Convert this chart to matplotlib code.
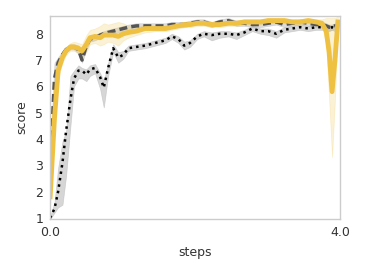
import numpy as np
import matplotlib
matplotlib.use("Agg")
import matplotlib.pyplot as plt

# steps (shared x for all runs)
steps = [0.00, 0.06, 0.11, 0.17, 0.22, 0.28, 0.33, 0.39, 0.44, 0.50,
         0.55, 0.62, 0.69, 0.74, 0.80, 0.87, 0.94, 1.01, 1.08, 1.19,
         1.31, 1.45, 1.59, 1.68, 1.77, 1.85, 1.93, 2.03, 2.12, 2.23,
         2.34, 2.46, 2.57, 2.68, 2.79, 2.90, 3.01, 3.12, 3.23, 3.34,
         3.45, 3.56, 3.67, 3.75, 3.81, 3.85, 3.89, 3.93, 3.97]

# dotted black run
dot_mean = [1.0, 1.35, 2.0, 3.1, 4.3, 5.5, 6.3, 6.6, 6.6, 6.45,
            6.65, 6.7, 6.35, 5.95, 6.7, 7.45, 7.1, 7.2, 7.45, 7.5,
            7.55, 7.65, 7.75, 7.9, 7.8, 7.55, 7.65, 7.9, 8.0, 7.95,
            8.0, 8.0, 7.95, 8.05, 8.2, 8.1, 8.1, 8.0, 8.15, 8.2,
            8.25, 8.2, 8.25, 8.25, 8.2, 8.2, 8.25, 8.2, 8.25]
dot_lo = [0.95, 1.2, 1.4, 1.5, 2.6, 4.5, 6.0, 6.3, 6.3, 6.2,
          6.4, 6.5, 5.9, 5.2, 6.4, 7.3, 6.9, 7.05, 7.35, 7.4,
          7.45, 7.55, 7.65, 7.8, 7.65, 7.4, 7.5, 7.8, 7.9, 7.75,
          7.85, 7.9, 7.8, 7.95, 8.1, 8.0, 7.95, 7.85, 8.05, 8.1,
          8.15, 8.1, 8.15, 8.15, 8.1, 8.1, 8.15, 8.1, 8.15]
dot_hi = [1.05, 1.6, 2.9, 3.9, 4.3, 6.4, 6.6, 6.8, 6.7, 6.65,
          6.8, 6.85, 6.5, 6.2, 6.9, 7.6, 7.3, 7.35, 7.55, 7.6,
          7.65, 7.75, 7.85, 8.0, 7.9, 7.7, 7.75, 8.0, 8.1, 8.05,
          8.1, 8.1, 8.05, 8.15, 8.3, 8.2, 8.2, 8.1, 8.25, 8.3,
          8.35, 8.3, 8.35, 8.35, 8.3, 8.3, 8.35, 8.3, 8.35]

# dashed grey run
dash_mean = [3.1, 6.3, 6.9, 7.2, 7.4, 7.5, 7.5, 7.4, 7.0, 7.55,
             7.8, 7.85, 7.95, 8.0, 8.05, 8.1, 8.15, 8.2, 8.25, 8.3,
             8.3, 8.3, 8.3, 8.35, 8.35, 8.35, 8.4, 8.45, 8.45, 8.35,
             8.45, 8.5, 8.4, 8.4, 8.35, 8.35, 8.4, 8.45, 8.35, 8.4,
             8.45, 8.4, 8.35, 8.35, 8.3, 8.25, 8.25, 8.3, 8.3]
dash_lo = [2.5, 5.6, 6.7, 7.05, 7.3, 7.4, 7.4, 7.25, 6.9, 7.4,
           7.7, 7.75, 7.85, 7.9, 7.95, 8.0, 8.05, 8.1, 8.15, 8.2,
           8.2, 8.2, 8.2, 8.25, 8.25, 8.25, 8.3, 8.35, 8.35, 8.25,
           8.35, 8.4, 8.3, 8.3, 8.25, 8.25, 8.3, 8.35, 8.25, 8.3,
           8.35, 8.3, 8.25, 8.25, 8.2, 8.15, 8.15, 8.2, 8.2]
dash_hi = [3.6, 6.9, 7.1, 7.35, 7.5, 7.6, 7.6, 7.55, 7.15, 7.7,
           7.9, 7.95, 8.05, 8.1, 8.15, 8.2, 8.25, 8.3, 8.35, 8.4,
           8.4, 8.4, 8.4, 8.45, 8.45, 8.45, 8.5, 8.55, 8.55, 8.45,
           8.55, 8.6, 8.5, 8.5, 8.45, 8.45, 8.5, 8.55, 8.45, 8.5,
           8.55, 8.5, 8.45, 8.45, 8.4, 8.35, 8.35, 8.4, 8.4]

# solid yellow run
sol_mean = [1.8, 4.8, 6.6, 7.1, 7.35, 7.5, 7.5, 7.45, 7.35, 7.6,
            7.85, 7.9, 7.85, 7.95, 7.95, 7.95, 7.9, 8.0, 8.05, 8.1,
            8.2, 8.2, 8.2, 8.25, 8.3, 8.35, 8.35, 8.4, 8.4, 8.35,
            8.35, 8.4, 8.4, 8.45, 8.45, 8.45, 8.5, 8.5, 8.5, 8.45,
            8.45, 8.5, 8.45, 8.4, 8.1, 7.3, 5.8, 7.0, 8.45]
sol_lo = [1.5, 4.3, 6.3, 6.9, 7.2, 7.35, 7.35, 7.25, 7.1, 7.3,
          7.6, 7.65, 7.55, 7.6, 7.7, 7.65, 7.55, 7.75, 7.85, 7.95,
          8.05, 8.1, 8.1, 8.15, 8.2, 8.25, 8.25, 8.3, 8.3, 8.25,
          8.25, 8.3, 8.3, 8.35, 8.35, 8.35, 8.4, 8.4, 8.4, 8.35,
          8.35, 8.4, 8.35, 8.3, 7.6, 5.5, 3.3, 5.5, 8.2]
sol_hi = [2.2, 5.3, 6.9, 7.3, 7.5, 7.65, 7.7, 7.65, 7.6, 7.95,
          8.15, 8.2, 8.3, 8.4, 8.35, 8.4, 8.45, 8.4, 8.3, 8.25,
          8.35, 8.3, 8.3, 8.35, 8.4, 8.45, 8.45, 8.5, 8.5, 8.45,
          8.45, 8.5, 8.5, 8.55, 8.55, 8.55, 8.6, 8.6, 8.6, 8.55,
          8.55, 8.6, 8.55, 8.55, 8.6, 8.6, 8.6, 8.6, 8.65]

YELLOW = "#efc143"

fig = plt.figure(figsize=(3.66, 2.74), dpi=100)
ax = fig.add_axes([0.137, 0.2, 0.792, 0.742])

ax.fill_between(steps, dot_lo, dot_hi, color="#bbbbbb", alpha=0.6, lw=0.5)
ax.fill_between(steps, dash_lo, dash_hi, color="#bbbbbb", alpha=0.5, lw=0.5)
ax.fill_between(steps, sol_lo, sol_hi, color=YELLOW, alpha=0.22, lw=0.5)

ax.plot(steps, dot_mean, color="black", ls=(0, (1, 1.6)), lw=1.8)
ax.plot(steps, dash_mean, color="#555555", ls=(0, (2.3, 1.2)), lw=2.5)
ax.plot(steps, sol_mean, color=YELLOW, lw=3.5, solid_joinstyle="round")

ax.set_xlim(0, 4.0)
ax.set_ylim(0.95, 8.68)
ax.set_xticks([0.0, 4.0])
ax.set_xticklabels(["0.0", "4.0"])
ax.set_yticks([1, 2, 3, 4, 5, 6, 7, 8])
ax.tick_params(length=0, labelsize=9, colors="#333333", pad=5)
ax.set_xlabel("steps", fontsize=9, color="#333333", labelpad=5)
ax.set_ylabel("score", fontsize=9, color="#333333", labelpad=5)
for s in ax.spines.values():
    s.set_color("#cccccc")
    s.set_linewidth(1)

fig.savefig("out.png", dpi=100)
